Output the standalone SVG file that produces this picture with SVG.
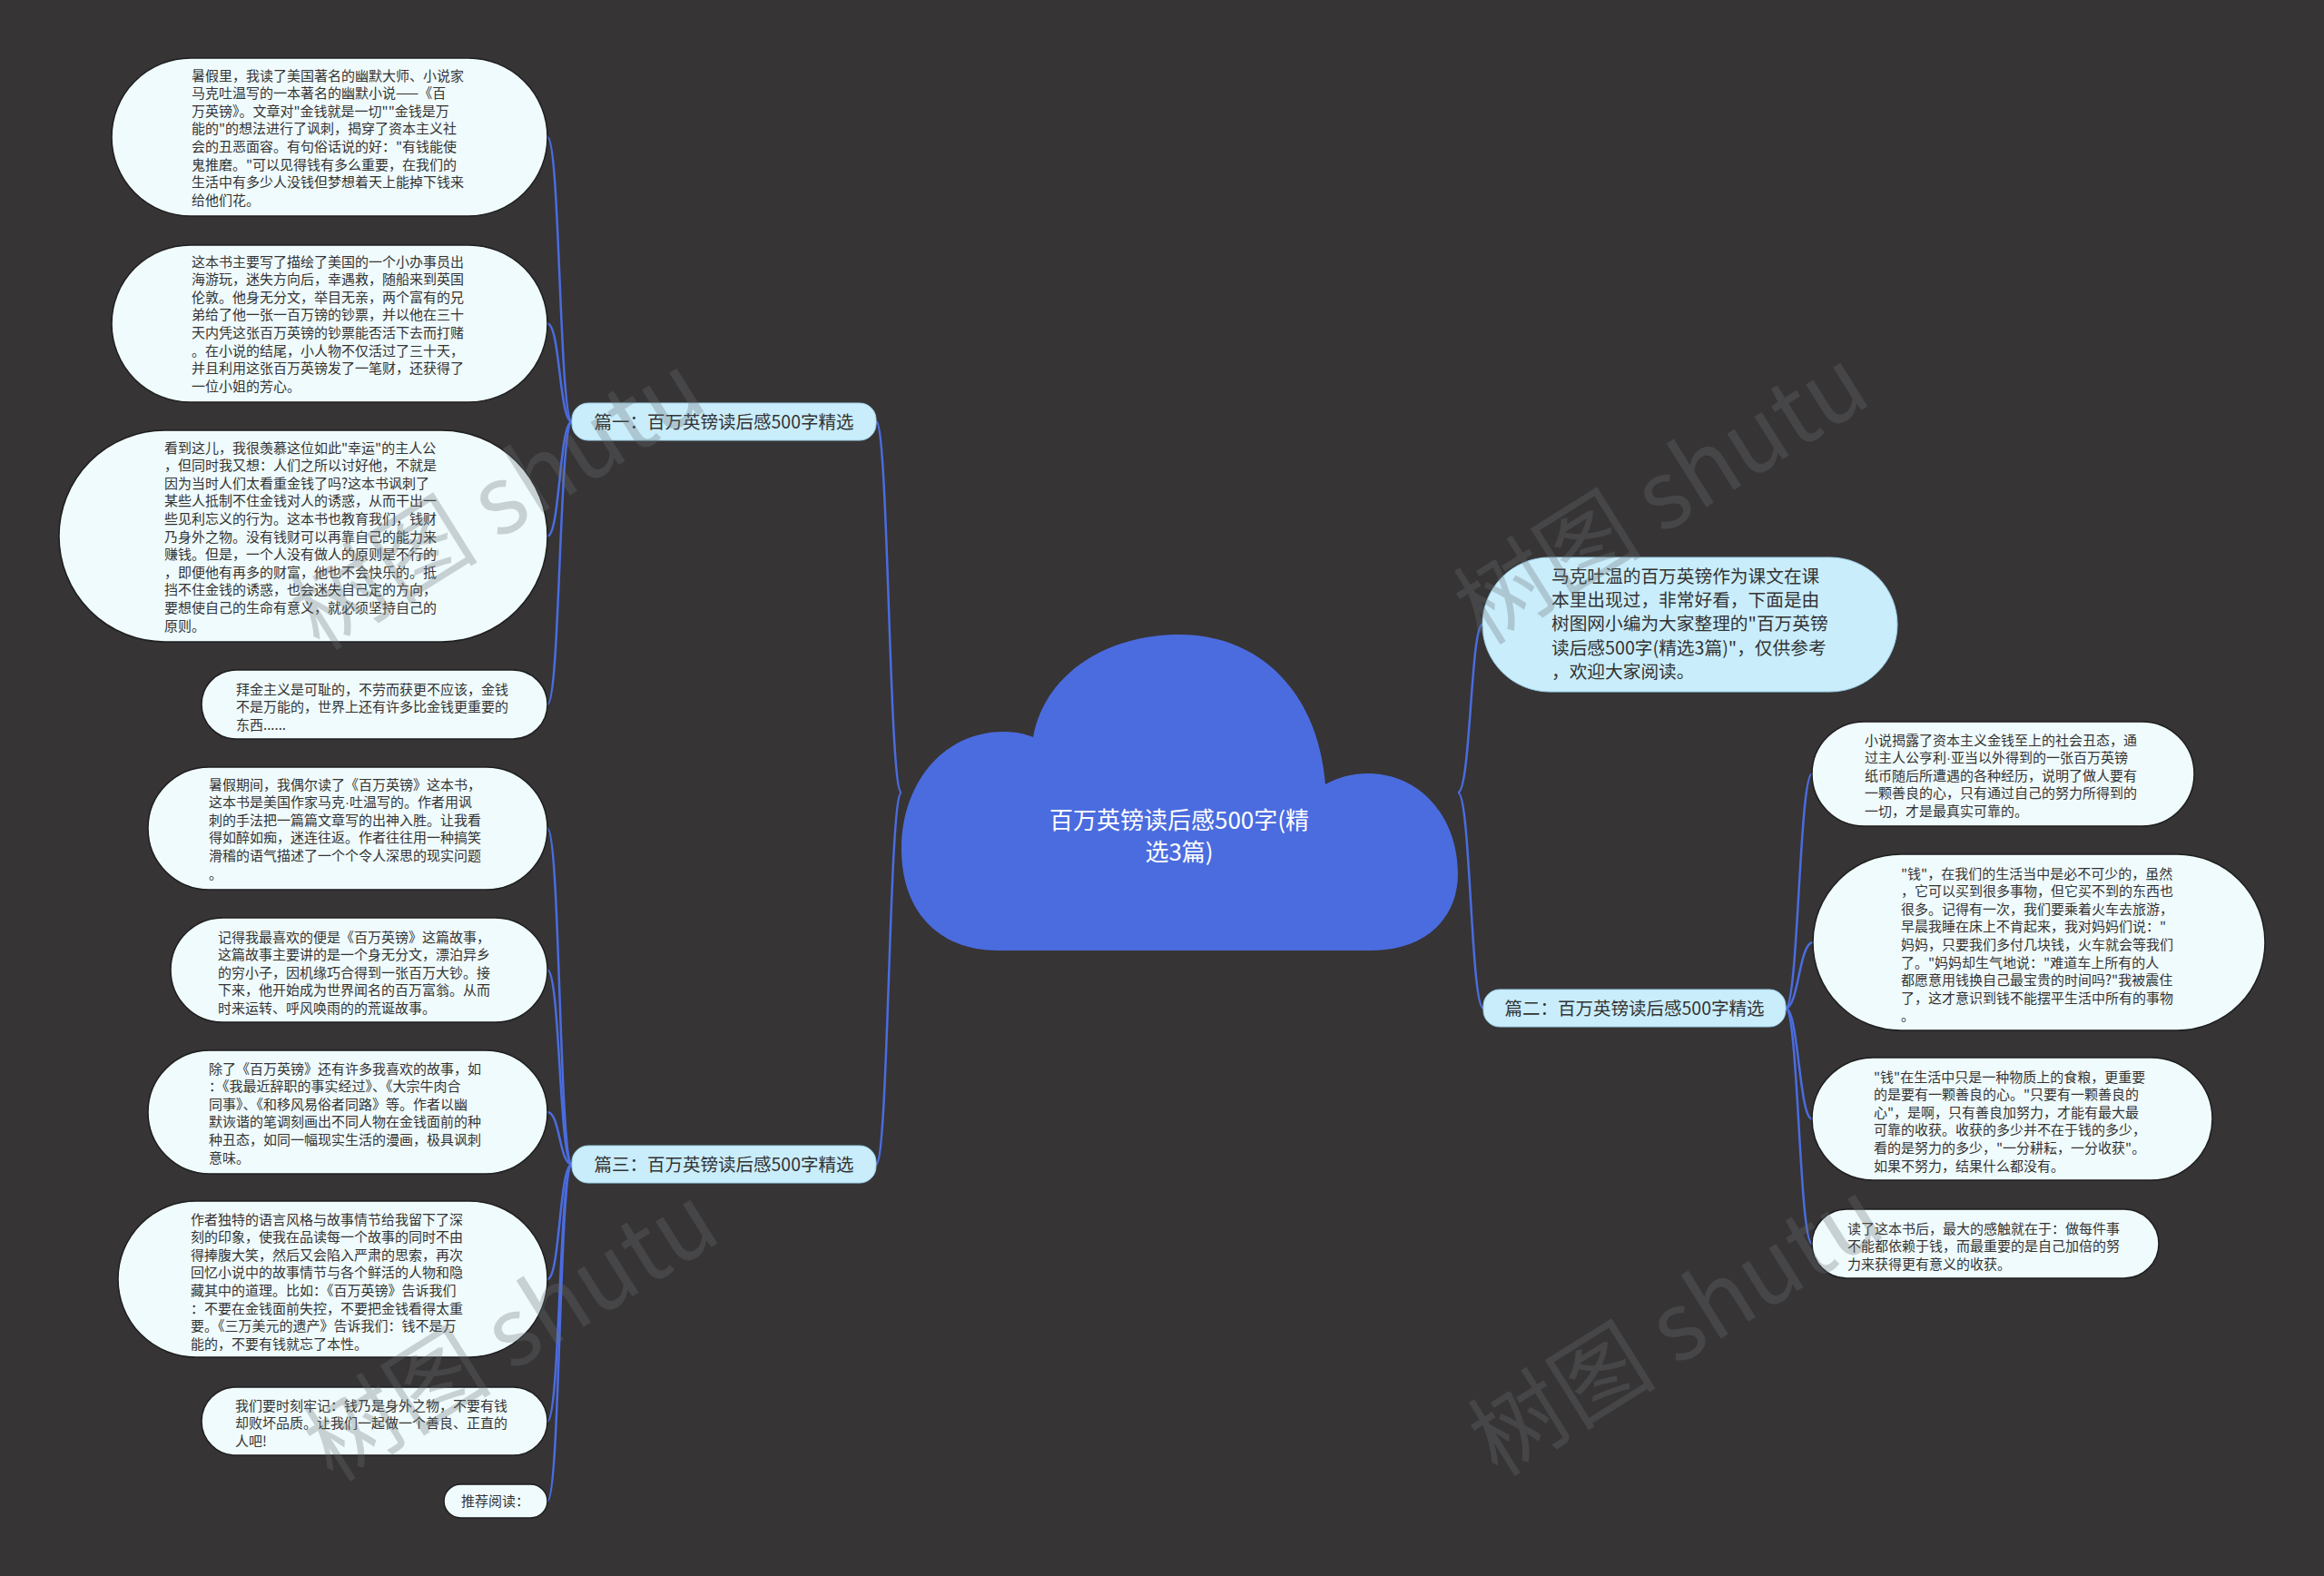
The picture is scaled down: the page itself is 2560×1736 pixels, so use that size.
<svg xmlns="http://www.w3.org/2000/svg" width="2560" height="1736" viewBox="0 0 2560 1736">
<style>
.bg{fill:#363435}
.conn path{fill:none;stroke:#4b6cdf;stroke-width:2.5}
.leaf rect{fill:#f0fbfd;stroke:#1e1e1e;stroke-width:1.5}
.lt{font-family:"Noto Sans CJK SC","Noto Sans",sans-serif;font-size:15px;fill:#333}
.dot{font-family:"Liberation Sans",sans-serif}
.br rect{fill:#c9edfb;stroke:#9fd3ea;stroke-width:1}
.bt{font-family:"Noto Sans CJK SC","Noto Sans",sans-serif;font-size:19.5px;fill:#333;text-anchor:middle}
.it{font-family:"Noto Sans CJK SC","Noto Sans",sans-serif;font-size:19.7px;fill:#333}
.ct{font-family:"Noto Sans CJK SC","Noto Sans",sans-serif;font-size:26px;fill:#fff;text-anchor:middle}
.wm{font-family:"Noto Sans CJK SC","Noto Sans",sans-serif;font-size:104px;fill:#6b7275;opacity:0.3}
</style>
<rect class="bg" x="0" y="0" width="2560" height="1736"/>

<g id="connectors" class="conn">
<path d="M993 873 C979 873 979 464.5 965 464.5"/>
<path d="M993 873 C979 873 979 1282.5 965 1282.5"/>
<path d="M1606 873 C1620 873 1620 688 1633 688"/>
<path d="M1606 873 C1620 873 1620 1110.5 1634 1110.5"/>
<path d="M630 464.5 C616 464.5 617 151 603 151"/>
<path d="M630 464.5 C616 464.5 617 356.5 603 356.5"/>
<path d="M630 464.5 C616 464.5 617 590.5 603 590.5"/>
<path d="M630 464.5 C616 464.5 617 776 603 776"/>
<path d="M630 1282.5 C616 1282.5 617 912.5 603 912.5"/>
<path d="M630 1282.5 C616 1282.5 617 1068.5 603 1068.5"/>
<path d="M630 1282.5 C616 1282.5 617 1225 603 1225"/>
<path d="M630 1282.5 C616 1282.5 617 1409 603 1409"/>
<path d="M630 1282.5 C616 1282.5 617 1565.5 603 1565.5"/>
<path d="M630 1282.5 C616 1282.5 617 1653.5 603 1653.5"/>
<path d="M1967 1110.5 C1981 1110.5 1982 852.5 1996 852.5"/>
<path d="M1967 1110.5 C1981 1110.5 1982 1038 1997 1038"/>
<path d="M1967 1110.5 C1981 1110.5 1982 1232.5 1996 1232.5"/>
<path d="M1967 1110.5 C1981 1110.5 1982 1370 1996 1370"/>
</g>

<g id="root">
<path d="M1100 1047 C1030 1047 993 1000 993 935 C993 862 1040 806 1105 806 C1118 806 1128 808 1138 812 C1150 745 1215 699 1299 699 C1390 699 1452 765 1460 864 C1474 856 1490 852 1506 852 C1566 852 1606 902 1606 962 C1606 1012 1570 1047 1510 1047 Z" fill="#4b6cdf"/>
<text class="ct" x="1299" y="912.5">百万英镑读后感500字(精</text>
<text class="ct" x="1299" y="947.5">选3篇)</text>
</g>

<g id="intro">
<rect x="1633" y="614" width="457" height="148" rx="74" fill="#c9edfb" stroke="#9fd3ea" stroke-width="1"/>
<text class="it" x="1709" y="642"><tspan x="1709">马克吐温的百万英镑作为课文在课</tspan><tspan x="1709" dy="26.2">本里出现过，非常好看，下面是由</tspan><tspan x="1709" dy="26.2">树图网小编为大家整理的"百万英镑</tspan><tspan x="1709" dy="26.2">读后感500字(精选3篇)"，仅供参考</tspan><tspan x="1709" dy="26.2">，欢迎大家阅读。</tspan></text>
</g>

<g id="branch1" class="br">
<rect x="630" y="444" width="335" height="41" rx="18"/>
<text class="bt" x="797.5" y="471.5">篇一：百万英镑读后感500字精选</text>
</g>
<g id="branch2" class="br">
<rect x="1634" y="1090" width="333" height="41" rx="18"/>
<text class="bt" x="1800.5" y="1117.5">篇二：百万英镑读后感500字精选</text>
</g>
<g id="branch3" class="br">
<rect x="630" y="1262" width="335" height="41" rx="18"/>
<text class="bt" x="797.5" y="1289.5">篇三：百万英镑读后感500字精选</text>
</g>

<g id="leaf1" class="leaf">
<rect x="123" y="64" width="480" height="174" rx="87"/>
<text class="lt" x="211" y="88.5"><tspan x="211">暑假里，我读了美国著名的幽默大师、小说家</tspan><tspan x="211" dy="19.6">马克吐温写的一本著名的幽默小说——《百</tspan><tspan x="211" dy="19.6">万英镑》。文章对"金钱就是一切""金钱是万</tspan><tspan x="211" dy="19.6">能的"的想法进行了讽刺，揭穿了资本主义社</tspan><tspan x="211" dy="19.6">会的丑恶面容。有句俗话说的好："有钱能使</tspan><tspan x="211" dy="19.6">鬼推磨。"可以见得钱有多么重要，在我们的</tspan><tspan x="211" dy="19.6">生活中有多少人没钱但梦想着天上能掉下钱来</tspan><tspan x="211" dy="19.6">给他们花。</tspan></text>
</g>

<g id="leaf2" class="leaf">
<rect x="123" y="270" width="480" height="173" rx="86.5"/>
<text class="lt" x="211" y="293.5"><tspan x="211">这本书主要写了描绘了美国的一个小办事员出</tspan><tspan x="211" dy="19.6">海游玩，迷失方向后，幸遇救，随船来到英国</tspan><tspan x="211" dy="19.6">伦敦。他身无分文，举目无亲，两个富有的兄</tspan><tspan x="211" dy="19.6">弟给了他一张一百万镑的钞票，并以他在三十</tspan><tspan x="211" dy="19.6">天内凭这张百万英镑的钞票能否活下去而打赌</tspan><tspan x="211" dy="19.6">。在小说的结尾，小人物不仅活过了三十天，</tspan><tspan x="211" dy="19.6">并且利用这张百万英镑发了一笔财，还获得了</tspan><tspan x="211" dy="19.6">一位小姐的芳心。</tspan></text>
</g>

<g id="leaf3" class="leaf">
<rect x="65" y="474" width="538" height="233" rx="116.5"/>
<text class="lt" x="181" y="498.5"><tspan x="181">看到这儿，我很羡慕这位如此"幸运"的主人公</tspan><tspan x="181" dy="19.6">，但同时我又想：人们之所以讨好他，不就是</tspan><tspan x="181" dy="19.6">因为当时人们太看重金钱了吗?这本书讽刺了</tspan><tspan x="181" dy="19.6">某些人抵制不住金钱对人的诱惑，从而干出一</tspan><tspan x="181" dy="19.6">些见利忘义的行为。这本书也教育我们，钱财</tspan><tspan x="181" dy="19.6">乃身外之物。没有钱财可以再靠自己的能力来</tspan><tspan x="181" dy="19.6">赚钱。但是，一个人没有做人的原则是不行的</tspan><tspan x="181" dy="19.6">，即便他有再多的财富，他也不会快乐的。抵</tspan><tspan x="181" dy="19.6">挡不住金钱的诱惑，也会迷失自己定的方向，</tspan><tspan x="181" dy="19.6">要想使自己的生命有意义，就必须坚持自己的</tspan><tspan x="181" dy="19.6">原则。</tspan></text>
</g>

<g id="leaf4" class="leaf">
<rect x="222" y="738" width="381" height="76" rx="38"/>
<text class="lt" x="260" y="764.5"><tspan x="260">拜金主义是可耻的，不劳而获更不应该，金钱</tspan><tspan x="260" dy="19.6">不是万能的，世界上还有许多比金钱更重要的</tspan><tspan x="260" dy="19.6">东西......</tspan></text>
</g>

<g id="leaf5" class="leaf">
<rect x="163" y="845" width="440" height="135" rx="67.5"/>
<text class="lt" x="230" y="869.5"><tspan x="230">暑假期间，我偶尔读了《百万英镑》这本书，</tspan><tspan x="230" dy="19.6">这本书是美国作家马克<tspan class="dot">·</tspan>吐温写的。作者用讽</tspan><tspan x="230" dy="19.6">刺的手法把一篇篇文章写的出神入胜。让我看</tspan><tspan x="230" dy="19.6">得如醉如痴，迷连往返。作者往往用一种搞笑</tspan><tspan x="230" dy="19.6">滑稽的语气描述了一个个令人深思的现实问题</tspan><tspan x="230" dy="19.6">。</tspan></text>
</g>

<g id="leaf6" class="leaf">
<rect x="188" y="1011" width="415" height="115" rx="57.5"/>
<text class="lt" x="240" y="1037.5"><tspan x="240">记得我最喜欢的便是《百万英镑》这篇故事，</tspan><tspan x="240" dy="19.6">这篇故事主要讲的是一个身无分文，漂泊异乡</tspan><tspan x="240" dy="19.6">的穷小子，因机缘巧合得到一张百万大钞。接</tspan><tspan x="240" dy="19.6">下来，他开始成为世界闻名的百万富翁。从而</tspan><tspan x="240" dy="19.6">时来运转、呼风唤雨的的荒诞故事。</tspan></text>
</g>

<g id="leaf7" class="leaf">
<rect x="163" y="1157" width="440" height="136" rx="68"/>
<text class="lt" x="230" y="1182.5"><tspan x="230">除了《百万英镑》还有许多我喜欢的故事，如</tspan><tspan x="230" dy="19.6">：《我最近辞职的事实经过》、《大宗牛肉合</tspan><tspan x="230" dy="19.6">同事》、《和移风易俗者同路》等。作者以幽</tspan><tspan x="230" dy="19.6">默诙谐的笔调刻画出不同人物在金钱面前的种</tspan><tspan x="230" dy="19.6">种丑态，如同一幅现实生活的漫画，极具讽刺</tspan><tspan x="230" dy="19.6">意味。</tspan></text>
</g>

<g id="leaf8" class="leaf">
<rect x="130" y="1323" width="473" height="172" rx="86"/>
<text class="lt" x="210" y="1348.5"><tspan x="210">作者独特的语言风格与故事情节给我留下了深</tspan><tspan x="210" dy="19.6">刻的印象，使我在品读每一个故事的同时不由</tspan><tspan x="210" dy="19.6">得捧腹大笑，然后又会陷入严肃的思索，再次</tspan><tspan x="210" dy="19.6">回忆小说中的故事情节与各个鲜活的人物和隐</tspan><tspan x="210" dy="19.6">藏其中的道理。比如：《百万英镑》告诉我们</tspan><tspan x="210" dy="19.6">：不要在金钱面前失控，不要把金钱看得太重</tspan><tspan x="210" dy="19.6">要。《三万美元的遗产》告诉我们：钱不是万</tspan><tspan x="210" dy="19.6">能的，不要有钱就忘了本性。</tspan></text>
</g>

<g id="leaf9" class="leaf">
<rect x="222" y="1528" width="381" height="75" rx="37.5"/>
<text class="lt" x="259" y="1553.5"><tspan x="259">我们要时刻牢记：钱乃是身外之物，不要有钱</tspan><tspan x="259" dy="19.6">却败坏品质。让我们一起做一个善良、正直的</tspan><tspan x="259" dy="19.6">人吧!</tspan></text>
</g>

<g id="leaf10" class="leaf">
<rect x="489" y="1635" width="114" height="37" rx="18.5"/>
<text class="lt" x="508" y="1659">推荐阅读：</text>
</g>

<g id="leafR1" class="leaf">
<rect x="1996" y="795" width="421" height="115" rx="57.5"/>
<text class="lt" x="2054" y="820.5"><tspan x="2054">小说揭露了资本主义金钱至上的社会丑态，通</tspan><tspan x="2054" dy="19.6">过主人公亨利<tspan class="dot">·</tspan>亚当以外得到的一张百万英镑</tspan><tspan x="2054" dy="19.6">纸币随后所遭遇的各种经历，说明了做人要有</tspan><tspan x="2054" dy="19.6">一颗善良的心，只有通过自己的努力所得到的</tspan><tspan x="2054" dy="19.6">一切，才是最真实可靠的。</tspan></text>
</g>

<g id="leafR2" class="leaf">
<rect x="1997" y="941" width="498" height="194" rx="97"/>
<text class="lt" x="2094" y="967.5"><tspan x="2094">"钱"，在我们的生活当中是必不可少的，虽然</tspan><tspan x="2094" dy="19.6">，它可以买到很多事物，但它买不到的东西也</tspan><tspan x="2094" dy="19.6">很多。记得有一次，我们要乘着火车去旅游，</tspan><tspan x="2094" dy="19.6">早晨我睡在床上不肯起来，我对妈妈们说："</tspan><tspan x="2094" dy="19.6">妈妈，只要我们多付几块钱，火车就会等我们</tspan><tspan x="2094" dy="19.6">了。"妈妈却生气地说："难道车上所有的人</tspan><tspan x="2094" dy="19.6">都愿意用钱换自己最宝贵的时间吗?"我被震住</tspan><tspan x="2094" dy="19.6">了，这才意识到钱不能摆平生活中所有的事物</tspan><tspan x="2094" dy="19.6">。</tspan></text>
</g>

<g id="leafR3" class="leaf">
<rect x="1996" y="1165" width="441" height="135" rx="67.5"/>
<text class="lt" x="2064" y="1191.5"><tspan x="2064">"钱"在生活中只是一种物质上的食粮，更重要</tspan><tspan x="2064" dy="19.6">的是要有一颗善良的心。"只要有一颗善良的</tspan><tspan x="2064" dy="19.6">心"，是啊，只有善良加努力，才能有最大最</tspan><tspan x="2064" dy="19.6">可靠的收获。收获的多少并不在于钱的多少，</tspan><tspan x="2064" dy="19.6">看的是努力的多少，"一分耕耘，一分收获"。</tspan><tspan x="2064" dy="19.6">如果不努力，结果什么都没有。</tspan></text>
</g>

<g id="leafR4" class="leaf">
<rect x="1996" y="1332" width="382" height="76" rx="38"/>
<text class="lt" x="2035" y="1358.5"><tspan x="2035">读了这本书后，最大的感触就在于：做每件事</tspan><tspan x="2035" dy="19.6">不能都依赖于钱，而最重要的是自己加倍的努</tspan><tspan x="2035" dy="19.6">力来获得更有意义的收获。</tspan></text>
</g>

<g id="watermarks">
<text class="wm" transform="translate(352 718) rotate(-32)">树图 shutu</text>
<text class="wm" transform="translate(1634 712) rotate(-32)">树图 shutu</text>
<text class="wm" transform="translate(367 1634) rotate(-32)">树图 shutu</text>
<text class="wm" transform="translate(1650 1628) rotate(-32)">树图 shutu</text>
</g>
</svg>
